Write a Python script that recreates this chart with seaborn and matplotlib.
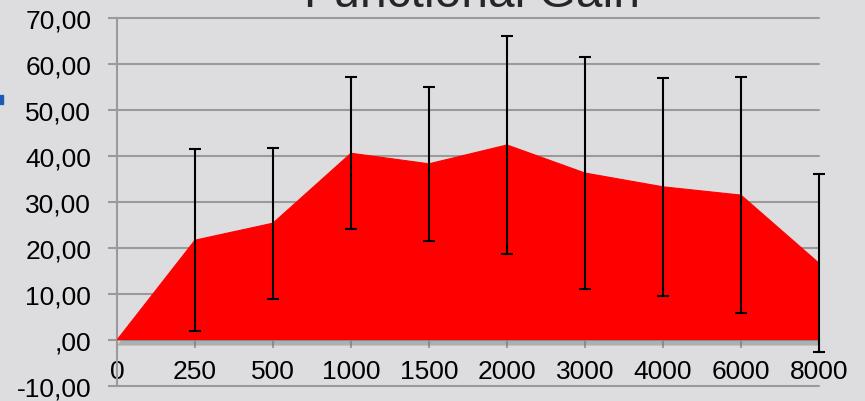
import matplotlib
matplotlib.use('Agg')
import matplotlib.pyplot as plt
import matplotlib.patheffects as pe
from matplotlib.patches import Rectangle
from matplotlib.ticker import FuncFormatter
import seaborn as sns
import pandas as pd

# values
freqs = ['0', '250', '500', '1000', '1500', '2000', '3000', '4000', '6000', '8000']
gain = [0, 21.7, 25.4, 40.6, 38.3, 42.4, 36.3, 33.3, 31.5, 16.7]
err = [0, 19.8, 16.4, 16.5, 16.8, 23.6, 25.3, 23.7, 25.7, 19.4]

bg = '#dddde0'
grid_c = '#9a9a9a'

sns.set_theme(style='white')
plt.rcParams['font.family'] = ['Liberation Sans', 'DejaVu Sans']

df = pd.DataFrame({'freq': freqs, 'gain': gain, 'err': err})
df['pos'] = range(len(df))

fig = plt.figure(figsize=(8.65, 4.02), dpi=100, facecolor=bg)
ax = fig.add_axes([117 / 865, 15 / 402, 702 / 865, 368 / 402])
ax.set_facecolor(bg)

# red area with a soft shadow under it
area = ax.fill_between(df['pos'], 0, df['gain'], color='#ff0000', lw=0, zorder=2)
area.set_path_effects([pe.SimplePatchShadow(offset=(0, -4), shadow_rgbFace='#777777', alpha=0.45),
                       pe.Normal()])
sns.lineplot(data=df, x='pos', y='gain', color='#ff0000', lw=0.8, ax=ax, zorder=3)

eb = df.iloc[1:]
ax.errorbar(eb['pos'], eb['gain'], yerr=eb['err'], fmt='none', ecolor='black',
            elinewidth=1.5, capsize=4.3, capthick=1.5, zorder=4, clip_on=False)

ax.set_xlim(0, 9)
ax.set_ylim(-10, 70)
ax.set_xticks(df['pos'])
ax.set_xticklabels(df['freq'])
ax.set_yticks(range(-10, 71, 10))


def fmt(v, p):
    s = f'{v:.2f}'.replace('.', ',')
    if s.startswith('0,'):
        s = s[1:]
    return s


ax.yaxis.set_major_formatter(FuncFormatter(fmt))
ax.set_xlabel('')
ax.set_ylabel('')

ax.grid(axis='y', color=grid_c, lw=1.5)
ax.set_axisbelow(True)
for gl in ax.get_ygridlines():
    gl.set_clip_on(False)

for s in ['top', 'right']:
    ax.spines[s].set_visible(False)
ax.spines['left'].set_color(grid_c)
ax.spines['left'].set_linewidth(1.5)
ax.spines['bottom'].set_position(('data', 0))
ax.spines['bottom'].set_linewidth(0)

ax.tick_params(axis='y', left=True, direction='out', length=6.5, width=1.5, color=grid_c,
               pad=12, labelsize=19, labelcolor='black')
ax.tick_params(axis='x', bottom=True, direction='out', length=6, width=1.5, color=grid_c,
               pad=8, labelsize=19, labelcolor='black')

fig.text(472 / 865, 395 / 402, 'Functional Gain', fontsize=34.5, ha='center', va='baseline')
fig.add_artist(Rectangle((0, (402 - 105) / 402), 3 / 865, 9 / 402,
                         transform=fig.transFigure, color='#1a5cb5'))

fig.savefig('out.png', dpi=100, facecolor=bg)
